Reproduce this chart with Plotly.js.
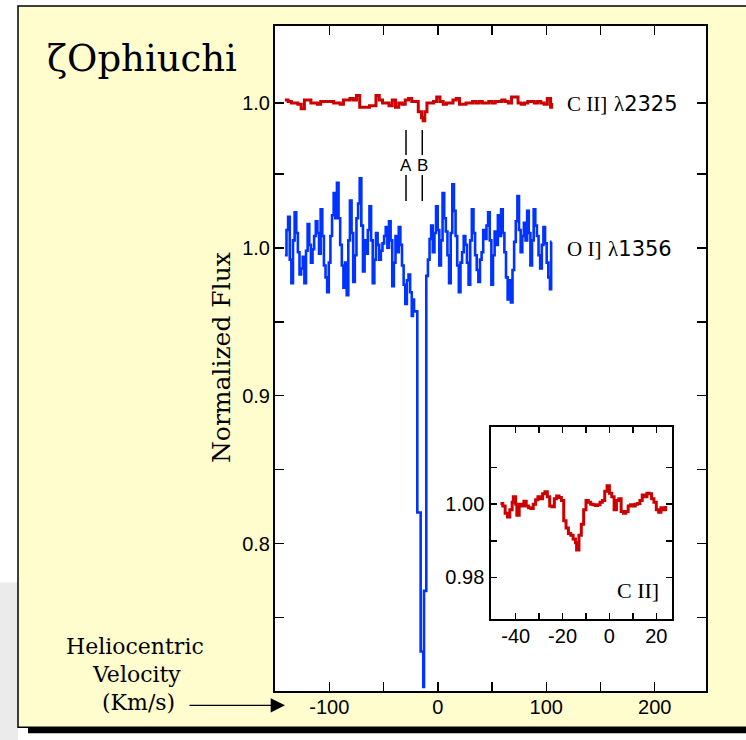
<!DOCTYPE html>
<html>
<head>
<meta charset="utf-8">
<script src="https://cdn.plot.ly/plotly-3.0.1.min.js"></script>
<style>
html,body{margin:0;padding:0;background:#ffffff;}
#chart{width:746px;height:740px;}
</style>
</head>
<body>
<div id="chart"></div>
<script>
// ---------------- DATA ----------------
// C II] λ2325 main spectrum (velocity km/s, normalized flux)
var ciiVel = [-141,-138,-135,-132,-129,-126,-123,-120,-117,-114,-111,-108,-105,-102,-99,-96,-93,-90,-87,-84,-81,-78,-75,-72,-69,-66,-63,-60,-57,-54,-51,-48,-45,-42,-39,-36,-33,-30,-27,-24,-21,-18,-15,-13.5,-12,-10,-7,-4,-1,2,5,8,11,14,17,20,23,26,29,32,35,38,41,44,47,50,53,56,59,62,65,68,71,74,77,80,83,86,89,92,95,98,101,104,105];
var ciiFlux = [1.002,1.001,1.000,1.000,0.999,0.996,1.002,1.002,1.000,1.000,0.999,1.001,1.001,1.001,1.001,1.000,1.000,0.999,1.002,1.002,1.003,1.002,1.005,0.997,0.997,0.997,0.998,0.998,1.005,1.002,1.000,1.000,0.998,1.002,0.997,1.000,0.999,1.002,1.003,1.001,1.001,0.994,0.990,0.988,0.994,1.000,1.000,1.001,1.004,1.001,0.999,1.000,1.000,1.002,1.003,0.999,0.999,1.000,1.000,1.001,1.000,1.001,1.000,1.000,1.001,1.000,1.001,1.001,1.002,1.001,1.000,1.004,1.004,1.000,0.999,1.000,1.001,1.001,1.000,1.001,1.000,0.999,1.003,0.997,1.000];
// O I] λ1356 spectrum
var oiVel = [-141,-139.5,-138,-136.5,-135,-133.5,-132,-130.5,-129,-127.5,-126,-124.5,-123,-121.5,-120,-118.5,-117,-115.5,-114,-112.5,-111,-109.5,-108,-106.5,-105,-103.5,-102,-100.5,-99,-97.5,-96,-94.5,-93,-91.5,-90,-88.5,-87,-85.5,-84,-82.5,-81,-79.5,-78,-76.5,-75,-73.5,-72,-70.5,-69,-67.5,-66,-64.5,-63,-61.5,-60,-58.5,-57,-55.5,-54,-52.5,-51,-49.5,-48,-46.5,-45,-43.5,-42,-40.5,-39,-37.5,-36,-34.5,-33,-31.5,-30,-28.5,-27,-25.5,-24,-22.9,-21.9,
  -18.9,-15.8,-13.4,-12.7,
  -10.6,-9.1,-7.6,-6.1,-4.6,-3.1,-1.6,-0.1,1.4,2.9,4.4,5.9,7.4,8.9,10.4,11.9,13.4,14.9,16.4,17.9,19.4,20.9,22.4,23.9,25.4,26.9,28.4,29.9,31.4,32.9,34.4,35.9,37.4,38.9,40.4,41.9,43.4,44.9,46.4,47.9,49.4,50.9,52.4,53.9,55.4,56.9,58.4,59.9,61.4,62.9,64.4,65.9,67.4,68.9,70.4,71.9,73.4,74.9,76.4,77.9,79.4,80.9,82.4,83.9,85.4,86.9,88.4,89.9,91.4,92.9,94.4,95.9,97.4,98.9,100.4,101.9,103.4,104.5,105];
var oiFlux = [0.995,1.012,1.021,0.992,0.976,1.005,1.024,1.010,0.997,0.982,0.986,0.994,0.976,0.998,1.016,1.002,0.990,0.999,1.008,1.018,1.010,0.996,1.026,1.008,0.988,0.980,0.970,0.990,1.008,1.022,1.037,1.020,1.044,1.020,1.002,0.988,0.973,0.990,0.968,1.005,1.032,1.010,0.977,0.995,1.020,1.030,1.047,1.015,0.984,1.005,0.996,1.012,1.028,1.005,0.976,0.992,1.010,1.002,0.992,0.998,1.003,1.008,1.014,1.000,1.018,1.005,0.974,0.990,1.008,0.997,1.014,1.002,0.988,0.975,0.962,0.978,0.982,0.970,0.954,0.965,0.957,
  0.821,0.727,0.703,0.768,
  0.981,0.992,1.006,1.015,0.997,1.010,1.028,1.012,0.988,1.005,1.037,1.020,1.011,0.995,0.976,1.010,1.043,1.025,1.008,0.988,0.970,0.990,0.997,1.008,1.002,0.990,0.975,1.005,1.026,1.010,0.995,0.985,0.977,0.992,0.997,1.012,1.006,1.015,1.024,1.005,0.975,0.995,1.011,1.002,1.022,1.008,1.026,1.010,0.997,0.980,0.965,0.978,0.963,0.985,1.004,1.018,1.035,1.012,0.997,1.008,1.017,1.005,1.025,1.010,0.988,1.005,1.026,1.015,1.008,0.995,0.986,1.002,1.014,1.003,0.990,0.980,0.972,1.004,1.004];
// Inset: C II] close-up
var insetVel = [-46.5,-45.5,-44.5,-43.5,-42.5,-41.5,-41,-40,-39.5,-38.5,-37.5,-36.5,-35.5,-34.5,-33.5,-32.5,-31.5,-30.5,-29.5,-28.5,-27.5,-26.5,-25.5,-24.5,-23.5,-22.5,-21.5,-20.5,-19.5,-18.5,-17.5,-16.5,-15.5,-14.5,-14,-13,-12,-11,-10,-9,-8,-7,-6,-5,-4,-3,-2,-1,0,1,2,3,4,5,6,7,8,9,10,11,12,13,14,15,16,17,18,19,20,21,22,23,24];
var insetFlux = [1.0002,0.9995,0.9975,0.9965,0.9985,1.0005,1.0020,1.0000,0.9970,1.0000,0.9995,1.0008,0.9995,0.9990,0.9988,1.0000,1.0012,1.0020,1.0015,1.0028,1.0034,1.0020,0.9995,0.9993,1.0015,1.0022,1.0018,1.0010,0.9955,0.9935,0.9920,0.9915,0.9905,0.9895,0.9875,0.9915,0.9945,0.9985,1.0010,1.0005,1.0000,0.9998,0.9996,0.9998,1.0005,1.0010,1.0035,1.0050,1.0030,1.0020,0.9985,1.0010,1.0015,0.9980,0.9975,0.9980,0.9995,0.9998,0.9995,1.0000,1.0002,1.0010,1.0025,1.0020,1.0030,1.0028,1.0015,1.0005,0.9985,0.9978,0.9990,0.9985,0.9995];
// Absorption components
var compVel = [-29.3, -14.3];
var compNames = ['A', 'B'];
// Tick labels
var mainXTicks = [-100,-50,0,50,100,150,200];
var mainXText = ['-100','','0','','100','','200'];
var ciiOffset = 0.098;
var mainYTicks = [0.75,0.8,0.85,0.9,0.95,1.0,1.05,1.0+ciiOffset];
var mainYText = ['','0.8','','0.9','','1.0','','1.0'];
var insetXTicks = [-40,-30,-20,-10,0,10,20];
var insetXText = ['-40','','-20','','0','','20'];
var insetYTicks = [0.98,0.99,1.00,1.01];
var insetYText = ['0.98','','1.00',''];

// ---------------- FIGURE ----------------
var RED = '#CC0000', BLUE = '#0033FF';
var ciiShown = ciiFlux.map(function(f){return f + ciiOffset;});

var traces = [
  {x: ciiVel, y: ciiShown, type:'scatter', mode:'lines', line:{color:RED, width:3, shape:'hv'}, xaxis:'x', yaxis:'y', hoverinfo:'skip'},
  {x: oiVel, y: oiFlux, type:'scatter', mode:'lines', line:{color:BLUE, width:2.6, shape:'hv'}, xaxis:'x', yaxis:'y', hoverinfo:'skip'},
  {x: insetVel, y: insetFlux, type:'scatter', mode:'lines', line:{color:RED, width:3, shape:'hv'}, xaxis:'x2', yaxis:'y2', hoverinfo:'skip'}
];

// pixel -> paper helpers (plot area: x 275..706, y 26..690.7)
function px(x){ return (x-275)/431; }
function py(y){ return (690.7-y)/664.7; }

var tickFont = {family:'Liberation Sans, Arial, sans-serif', size:20, color:'#000'};
var serif = 'DejaVu Serif, serif';

var shapes = [
  {type:'rect', xref:'paper', yref:'paper', x0:px(0), x1:px(18), y0:py(740), y1:py(582), fillcolor:'#ebebeb', line:{width:0}, layer:'below'},
  {type:'rect', xref:'paper', yref:'paper', x0:px(28), x1:px(760), y0:py(733), y1:py(727), fillcolor:'#000', line:{width:0}, layer:'below'},
  {type:'rect', xref:'paper', yref:'paper', x0:px(18), x1:px(760), y0:py(727), y1:py(6), fillcolor:'#FFFCCD', line:{color:'#000', width:1.5}, layer:'below'},
  {type:'rect', xref:'paper', yref:'paper', x0:0, x1:1, y0:0, y1:1, fillcolor:'#fff', line:{width:0}, layer:'below'}
];
compVel.forEach(function(v){
  shapes.push({type:'line', xref:'x', yref:'y', x0:v, x1:v, y0:1.0316, y1:1.0492, line:{color:'#000', width:1.5}});
  shapes.push({type:'line', xref:'x', yref:'y', x0:v, x1:v, y0:1.0627, y1:1.0796, line:{color:'#000', width:1.5}});
});

var annotations = [
  {xref:'paper', yref:'paper', x:px(45), y:py(58.2), xanchor:'left', yanchor:'middle', showarrow:false,
   text:'ζOphiuchi', font:{family:serif, size:37, color:'#000'}},
  {xref:'paper', yref:'paper', x:px(221.4), y:py(357.5), xanchor:'center', yanchor:'middle', showarrow:false, textangle:-90,
   text:'Normalized Flux', font:{family:serif, size:25, color:'#000'}},
  {xref:'paper', yref:'paper', x:px(134.5), y:py(646), xanchor:'center', yanchor:'middle', showarrow:false,
   text:'Heliocentric', font:{family:serif, size:22, color:'#000'}},
  {xref:'paper', yref:'paper', x:px(136), y:py(674.5), xanchor:'center', yanchor:'middle', showarrow:false,
   text:'Velocity', font:{family:serif, size:22, color:'#000'}},
  {xref:'paper', yref:'paper', x:px(138.5), y:py(702), xanchor:'center', yanchor:'middle', showarrow:false,
   text:'(Km/s)', font:{family:serif, size:22, color:'#000'}},
  {xref:'paper', yref:'paper', x:px(285), y:py(705), ax:-97, ay:0, axref:'pixel', ayref:'pixel', text:'', showarrow:true,
   arrowhead:2, arrowsize:2.2, arrowwidth:1.3, arrowcolor:'#000'},
  {xref:'paper', yref:'paper', x:px(565), y:py(104.4), xanchor:'left', yanchor:'middle', showarrow:false,
   text:'<span style="font-family:Liberation Serif">C II]</span> <span style="font-family:Liberation Serif">λ</span>2325', font:{family:'DejaVu Sans, sans-serif', size:21, color:'#000'}},
  {xref:'paper', yref:'paper', x:px(565), y:py(249), xanchor:'left', yanchor:'middle', showarrow:false,
   text:'<span style="font-family:Liberation Serif">O I]</span> <span style="font-family:Liberation Serif">λ</span>1356', font:{family:'DejaVu Sans, sans-serif', size:21, color:'#000'}},
  {xref:'paper', yref:'paper', x:px(637.5), y:py(590.4), xanchor:'center', yanchor:'middle', showarrow:false,
   text:'C II]', font:{family:'Liberation Serif, serif', size:22, color:'#000'}}
];
compVel.forEach(function(v, i){
  annotations.push({xref:'x', yref:'y', x:v, y:1.0556, xanchor:'center', yanchor:'middle', showarrow:false,
    text:compNames[i], font:{family:'Liberation Sans, Arial, sans-serif', size:17, color:'#000'}});
});

var axCommon = {showgrid:false, zeroline:false, showline:true, linecolor:'#000', linewidth:2, mirror:'ticks',
  ticks:'inside', tickcolor:'#000', tickwidth:1.5, tickfont:tickFont, tickmode:'array'};

var layout = {
  width:746, height:740,
  margin:{l:275, r:40, t:26, b:49.3, pad:0},
  paper_bgcolor:'#ffffff', plot_bgcolor:'rgba(0,0,0,0)',
  showlegend:false,
  xaxis: Object.assign({}, axCommon, {domain:[0,1], range:[-150.1,247.3], tickvals:mainXTicks, ticktext:mainXText, ticklen:9, ticklabelstandoff:-3, anchor:'y'}),
  yaxis: Object.assign({}, axCommon, {domain:[0,1], range:[0.7003,1.15], tickvals:mainYTicks, ticktext:mainYText, ticklen:9, ticklabelstandoff:-1, anchor:'x'}),
  xaxis2: Object.assign({}, axCommon, {domain:[px(491.3), px(672)], range:[-50.4,26.7], tickvals:insetXTicks, ticktext:insetXText, ticklen:6, ticklabelstandoff:-2, anchor:'y2'}),
  yaxis2: Object.assign({}, axCommon, {domain:[py(618.3), py(427.3)], range:[0.9688,1.0209], tickvals:insetYTicks, ticktext:insetYText, ticklen:6, ticklabelstandoff:1, anchor:'x2'}),
  shapes:shapes,
  annotations:annotations
};

Plotly.newPlot('chart', traces, layout, {staticPlot:true, displayModeBar:false});
</script>
</body>
</html>
